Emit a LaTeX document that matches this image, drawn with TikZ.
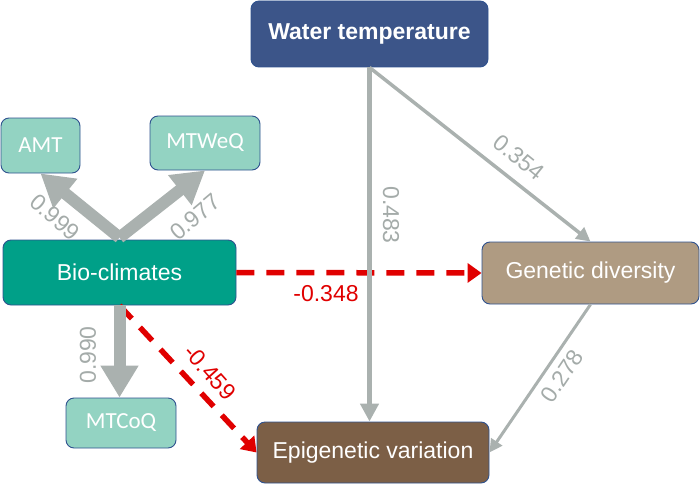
\documentclass[tikz,border=0pt]{standalone}
\usepackage{fontspec}
\setmainfont{Liberation Sans}
\newfontfamily\calib{Carlito}
\usetikzlibrary{arrows.meta}
\definecolor{bordc}{HTML}{2F528F}
\definecolor{wtc}{HTML}{3C5589}
\definecolor{lteal}{HTML}{93D3C2}
\definecolor{bioc}{HTML}{00A088}
\definecolor{genc}{HTML}{AF9B82}
\definecolor{epic}{HTML}{7C5F46}
\definecolor{grayc}{HTML}{AAB1AF}
\definecolor{labc}{HTML}{A4ABA9}
\definecolor{redc}{HTML}{E00000}
\tikzset{
  box/.style={draw=bordc, line width=0.9pt, rounded corners=8pt, text=white, inner sep=0pt, anchor=center},
  smallbox/.style={box, fill=lteal, font=\calib\fontsize{23}{26}\selectfont},
  bigbox/.style={box, font=\fontsize{23}{26}\selectfont},
  fatarrow/.style={draw=grayc, line width=12pt, -{Triangle[width=36pt,length=32pt]}},
  thinarrow/.style={draw=grayc, -{Triangle[width=#1,length=#1]}},
  redarrow/.style={draw=redc, line width=5.5pt, dash pattern=on 18pt off 12pt, -{Triangle[width=19pt,length=14pt]}},
  glab/.style={text=labc, font=\fontsize{23}{26}\selectfont, inner sep=0pt},
  rlab/.style={text=redc, font=\fontsize{23}{26}\selectfont, inner sep=0pt}
}
\begin{document}
\begin{tikzpicture}[x=1pt,y=-1pt]
\useasboundingbox (0,0) rectangle (700,484);
% nodes
\node[bigbox, fill=wtc, minimum width=237pt, minimum height=66pt, font=\bfseries\fontsize{23}{26}\selectfont] (wt) at (369.5,34) {Water temperature};
\node[smallbox, minimum width=79pt, minimum height=55pt] (amt) at (40.5,145.5) {AMT};
\node[smallbox, minimum width=110pt, minimum height=54pt] (mtw) at (205,143) {MTWeQ};
\node[bigbox, fill=bioc, minimum width=233pt, minimum height=65pt] (bio) at (119.5,272.5) {Bio-climates};
\node[smallbox, minimum width=110pt, minimum height=50pt] (mtc) at (121,423) {MTCoQ};
\node[bigbox, fill=genc, minimum width=217pt, minimum height=62pt] (gen) at (590.5,273) {Genetic diversity};
\node[bigbox, fill=epic, minimum width=232pt, minimum height=61pt] (epi) at (373,452.5) {Epigenetic variation};
% red dashed connectors
\draw[redarrow] (bio.east) -- (gen.west);
\draw[redarrow] (bio.south) -- (epi.west);
% gray connectors
\draw[fatarrow] ([yshift=2pt]bio.north) -- (amt.south);
\draw[fatarrow] ([yshift=2pt]bio.north) -- (mtw.south);
\draw[fatarrow] (bio.south) -- (bio.south |- mtc.north);
\draw[thinarrow=18pt, line width=5pt] (wt.south) -- (wt.south |- epi.north);
\draw[thinarrow=14pt, line width=3.5pt] (wt.south) -- (gen.north);
\draw[thinarrow=13pt, line width=3pt] (gen.south) -- (epi.east);
% labels
\node[glab, rotate=-41] (l999) at (55,217) {0.999};
\node[glab, rotate=40] (l977) at (195,217) {0.977};
\node[glab, rotate=90] (l990) at (88,355) {0.990};
\node[glab, rotate=-90] (l483) at (391,215) {0.483};
\node[glab, rotate=-39] (l354) at (519,157) {0.354};
\node[glab, rotate=56] (l278) at (562,376) {0.278};
\node[rlab] (l348) at (326,294) {-0.348};
\node[rlab, rotate=-48] (l459) at (210,372) {-0.459};
\end{tikzpicture}
\end{document}
